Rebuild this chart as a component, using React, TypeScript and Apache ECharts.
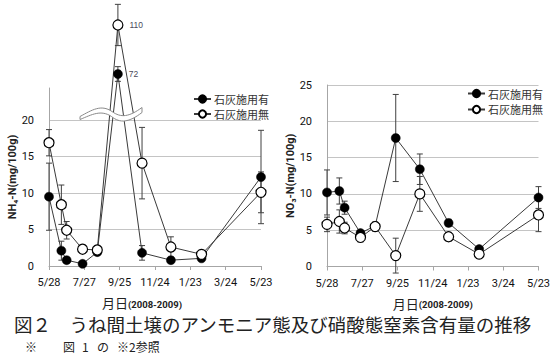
import React, { useEffect, useRef } from "react";
import * as echarts from "echarts";

// sampling dates as days since 2008-05-28
const days = [0, 21, 30, 57, 82, 117, 158, 207, 259, 360];
const tickLabels = ["5/28", "7/27", "9/25", "11/24", "1/23", "3/24", "5/23"];
const seriesNames = ["石灰施用有", "石灰施用無"];

// NH4-N (mg/100g)
const nh4Lime = [9.5, 2.1, 0.8, 0.3, 1.9, 72, 1.8, 0.8, 1.05, 12.2];
const nh4LimeErr = [4.6, 1.3, 0.3, 0.2, 0.3, 5.7, 1.0, 0.3, 0.3, 6.4];
const nh4NoLime = [16.9, 8.4, 4.9, 2.3, 2.2, 110, 14.1, 2.6, 1.6, 10.1];
const nh4NoLimeErr = [1.8, 2.7, 1.2, 0.3, 0.3, 16, 4.9, 1.4, 0.3, 2.8];

// NO3-N (mg/100g)
const no3Lime = [10.2, 10.4, 8.1, 4.6, 5.6, 17.7, 13.4, 6.0, 2.4, 9.5];
const no3LimeErr = [3.1, 1.8, 0.9, 0.4, 0.4, 6.0, 2.1, 0.5, 0.3, 1.5];
const no3NoLime = [5.8, 6.2, 5.3, 4.0, 5.5, 1.5, 10.0, 4.1, 1.7, 7.1];
const no3NoLimeErr = [1.0, 1.6, 0.8, 0.6, 0.6, 2.4, 2.4, 0.6, 0.3, 2.3];

// broken NH4 axis: values above the break use a compressed scale
const BREAK_AT = 20;
const UPPER_OFFSET = 13.59;
const UPPER_SCALE = 0.1768;
const tf = (v: number) => (v <= BREAK_AT ? v : UPPER_OFFSET + UPPER_SCALE * v);

const breakPath =
  "M 80 116.5 C 92 110, 101 104, 112 111.5 C 121 118, 129 117, 142 107.5 L 142 112.5 C 129 122.5, 120 123.5, 111.5 116.5 C 101 109.5, 92 114.5, 80 119.5 Z";
echarts.graphic.registerShape("breakMark", echarts.graphic.extendPath(breakPath, {}) as any);

const TICK_FONT = "Roboto";
const CJK = '"Noto Sans CJK JP"';

function lineSeries(name: string, values: number[], axis: number, filled: boolean, transform: (v: number) => number) {
  return {
    name,
    type: "line",
    xAxisIndex: axis,
    yAxisIndex: axis,
    clip: false,
    z: 4,
    symbol: "circle",
    symbolSize: filled ? 9 : 10,
    itemStyle: filled
      ? { color: "#000", borderColor: "#000", borderWidth: 0.5 }
      : { color: "#fff", borderColor: "#000", borderWidth: 1.2 },
    lineStyle: { color: "#3a3a3a", width: 1 },
    data: days.map((d, i) => {
      const v = values[i];
      const item: any = { value: [d, transform(v)] };
      if (v > BREAK_AT && axis === 0) {
        item.label = {
          show: true,
          position: "right",
          distance: 6,
          formatter: String(v),
          fontSize: 8.5,
          fontFamily: "Liberation Sans",
          color: "#4a4a5a",
        };
      }
      return item;
    }),
  };
}

function errorSeries(values: number[], errs: number[], axis: number, transform: (v: number) => number) {
  return {
    type: "custom",
    xAxisIndex: axis,
    yAxisIndex: axis,
    z: 3,
    silent: true,
    clip: false,
    encode: { x: 0, y: [1, 2] },
    data: days.map((d, i) => [d, transform(values[i] - errs[i]), transform(values[i] + errs[i])]),
    renderItem: (params: any, api: any) => {
      const x = api.value(0);
      const lo = api.coord([x, api.value(1)]);
      const hi = api.coord([x, api.value(2)]);
      const w = 3;
      const style = { stroke: "#404040", lineWidth: 1 };
      return {
        type: "group",
        children: [
          { type: "line", shape: { x1: lo[0], y1: lo[1], x2: hi[0], y2: hi[1] }, style },
          { type: "line", shape: { x1: hi[0] - w, y1: hi[1], x2: hi[0] + w, y2: hi[1] }, style },
          { type: "line", shape: { x1: lo[0] - w, y1: lo[1], x2: lo[0] + w, y2: lo[1] }, style },
        ],
      };
    },
  };
}

function xAxis(gridIndex: number, namePad: number[]) {
  return {
    type: "value",
    gridIndex,
    min: 0,
    max: 360,
    interval: 60,
    axisLine: { show: true, lineStyle: { color: "#a6a6a6" } },
    axisTick: { show: true, length: 4, lineStyle: { color: "#a6a6a6" } },
    splitLine: { show: false },
    axisLabel: {
      margin: 11,
      fontSize: 11,
      fontFamily: TICK_FONT,
      color: "#111",
      formatter: (v: number) => tickLabels[Math.round(v / 60)] ?? "",
    },
    name: "{a|月日}{b|(2008-2009)}",
    nameLocation: "middle",
    nameGap: 27,
    nameTextStyle: {
      padding: namePad,
      rich: {
        a: { fontSize: 13, fontFamily: CJK, color: "#222", lineHeight: 16, verticalAlign: "bottom" },
        b: { fontSize: 9.5, fontFamily: TICK_FONT, fontWeight: "bold", color: "#222", lineHeight: 16, verticalAlign: "bottom" },
      },
    },
  };
}

function yAxis(gridIndex: number, max: number, name: string, gap: number) {
  return {
    type: "value",
    gridIndex,
    min: 0,
    max,
    interval: 5,
    axisLine: { show: true, lineStyle: { color: "#a6a6a6" } },
    axisTick: { show: false },
    splitLine: { show: true, showMaxLine: gridIndex === 1, lineStyle: { color: "#c4c4c4" } },
    axisLabel: {
      margin: 15,
      fontSize: 11,
      fontFamily: TICK_FONT,
      color: "#111",
      showMaxLabel: gridIndex === 1,
    },
    name,
    nameLocation: "middle",
    nameGap: gap,
    nameTextStyle: { fontSize: 11, fontFamily: TICK_FONT, fontWeight: "bold", color: "#222" },
  };
}

function legend(left: number, top: number, gap: number) {
  return {
    left,
    top,
    padding: 0,
    orient: "vertical",
    itemWidth: 17,
    itemHeight: 9,
    itemGap: gap,
    data: seriesNames,
    textStyle: { fontSize: 11, fontFamily: CJK, color: "#333", padding: [0, 0, 0, -2] },
  };
}

export default function App() {
  const ref = useRef<HTMLDivElement>(null);
  useEffect(() => {
    if (!ref.current) return;
    const chart = echarts.init(ref.current, null, { renderer: "svg" });
    const option: any = {
      animation: false,
      backgroundColor: "#fff",
      grid: [
        { left: 49, right: 291, top: 88, bottom: 97, outerBoundsMode: "none" },
        { left: 327, right: 13.5, top: 85, bottom: 96.5, outerBoundsMode: "none" },
      ],
      legend: [legend(193, 93.5, 4), legend(467, 88, 5)],
      xAxis: [xAxis(0, [0, 26, 0, 0]), xAxis(1, [0, 0, 0, 0])],
      yAxis: [
        yAxis(0, 24.4, "NH₄-N(mg/100g)", 30),
        yAxis(1, 25, "NO₃-N(mg/100g)", 30.5),
      ],
      series: [
        errorSeries(nh4Lime, nh4LimeErr, 0, tf),
        errorSeries(nh4NoLime, nh4NoLimeErr, 0, tf),
        lineSeries(seriesNames[0], nh4Lime, 0, true, tf),
        lineSeries(seriesNames[1], nh4NoLime, 0, false, tf),
        errorSeries(no3Lime, no3LimeErr, 1, (v) => v),
        errorSeries(no3NoLime, no3NoLimeErr, 1, (v) => v),
        lineSeries(seriesNames[0], no3Lime, 1, true, (v) => v),
        lineSeries(seriesNames[1], no3NoLime, 1, false, (v) => v),
      ],
      graphic: [
        {
          type: "breakMark",
          x: 0,
          y: 0,
          z: 100,
          style: { fill: "#fff", stroke: "#8a8a8a", lineWidth: 1 },
        },
        {
          type: "text",
          x: 14,
          y: 324,
          z: 100,
          style: {
            text: "図２　うね間土壌のアンモニア態及び硝酸態窒素含有量の推移",
            font: `18.5px ${CJK}`,
            fill: "#222",
            verticalAlign: "middle",
          },
        },
        { type: "text", x: 25, y: 346, style: { text: "※", font: `12px ${CJK}`, fill: "#222", verticalAlign: "middle" } },
        { type: "text", x: 63, y: 346, style: { text: "図", font: `12px ${CJK}`, fill: "#222", verticalAlign: "middle" } },
        { type: "text", x: 82, y: 346, style: { text: "1", font: `12px ${CJK}`, fill: "#222", verticalAlign: "middle" } },
        { type: "text", x: 97, y: 346, style: { text: "の", font: `12px ${CJK}`, fill: "#222", verticalAlign: "middle" } },
        { type: "text", x: 117, y: 346, style: { text: "※2参照", font: `12px ${CJK}`, fill: "#222", verticalAlign: "middle" } },
      ],
    };
    chart.setOption(option);
    return () => chart.dispose();
  }, []);
  return (
    <div
      ref={ref}
      style={{ position: "fixed", left: 0, top: 0, width: 552, height: 363, background: "#fff" }}
    />
  );
}
